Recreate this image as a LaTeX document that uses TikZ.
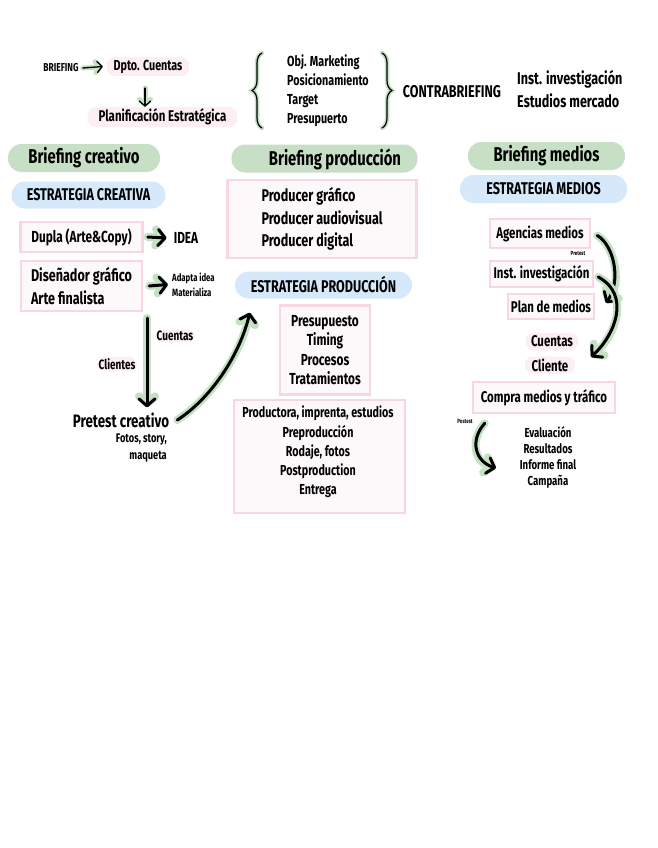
\documentclass[tikz,border=0pt]{standalone}
\usepackage{fontspec}
\setmainfont{Fira Sans}[FakeStretch=0.74]
\usetikzlibrary{arrows.meta,decorations.pathreplacing}
\definecolor{pillgreen}{RGB}{199,224,197}
\definecolor{pillblue}{RGB}{214,233,250}
\definecolor{pinkborder}{RGB}{249,214,230}
\definecolor{pinkfill}{RGB}{253,249,250}
\definecolor{hlpink}{RGB}{253,238,243}
\definecolor{glowgreen}{RGB}{197,225,196}
\newcommand\fsz[2]{\fontsize{#1}{#2}\selectfont\bfseries}
\begin{document}
\begin{tikzpicture}[x=1pt,y=-1pt,
  every node/.style={inner sep=0pt},
  pillg/.style={fill=pillgreen, rounded corners=13.5pt},
  pillb/.style={fill=pillblue, rounded corners=13.5pt},
  pbox/.style={draw=pinkborder, line width=2.5pt, fill=pinkfill},
  hl/.style={fill=hlpink, rounded corners=8pt},
  glowthin/.style={draw=glowgreen, line width=5pt, line cap=round, line join=round, -{Straight Barb[round,length=5pt,width=11pt]}},
  arrthin/.style={draw=black, line width=1.3pt, line cap=round, line join=round, -{Straight Barb[round,length=5pt,width=11pt]}},
  glowthick/.style={draw=glowgreen, line width=8pt, line cap=round, line join=round, -{Straight Barb[round,length=7pt,width=16pt]}},
  arrthick/.style={draw=black, line width=3pt, line cap=round, line join=round, -{Straight Barb[round,length=7pt,width=16pt]}},
  glowbrace/.style={draw=glowgreen, line width=4.5pt, line cap=round, decorate, decoration={brace, amplitude=10pt}},
  blackbrace/.style={draw=black, line width=1.2pt, line cap=round, decorate, decoration={brace, amplitude=10pt}}
]
\useasboundingbox[fill=white] (0,0) rectangle (657,848);

% ---------- top row ----------
\node[font=\fsz{11.5}{13}] (brief) at (61,68) {BRIEFING};
\node[hl, minimum width=82, minimum height=19, font=\fsz{14.5}{17}] (dpto) at (148,66.5) {Dpto. Cuentas};
\node[hl, minimum width=149, minimum height=20, font=\fsz{15.5}{18}] (plan) at (162.5,117) {Planificación Estratégica};
\draw[glowthin] ([xshift=4]brief.east) -- ([xshift=-4]dpto.west);
\draw[arrthin] ([xshift=4]brief.east) -- ([xshift=-4]dpto.west);
\coordinate (dtop) at (145,88);
\draw[glowthin] (dtop) -- (dtop |- plan.north);
\draw[arrthin] (dtop) -- (dtop |- plan.north);

\draw[glowbrace] (262,128) -- (262,53);
\draw[blackbrace] (262,128) -- (262,53);
\node[anchor=west, align=left, font=\fsz{14.5}{19}] (obj) at (287,91) {Obj. Marketing\\Posicionamiento\\Target\\Presupuerto};
\draw[glowbrace] (382,53) -- (382,128);
\draw[blackbrace] (382,53) -- (382,128);
\node[font=\fsz{17}{20}] (contra) at (452,92) {CONTRABRIEFING};
\node[anchor=west, align=left, font=\fsz{17}{23}] (inst) at (517,89.5) {Inst. investigación\\Estudios mercado};

% ---------- creative column ----------
\node[pillg, minimum width=152, minimum height=28, font=\fsz{20}{24}] (bcrea) at (84,158) {Briefing creativo};
\node[pillb, minimum width=154, minimum height=27, font=\fsz{17}{20}] (ecrea) at (88.5,195) {ESTRATEGIA CREATIVA};
\node[pbox, minimum width=122, minimum height=30, font=\fsz{16}{19}] (dupla) at (81.5,237) {Dupla (Arte\&Copy)};
\node[font=\fsz{16}{19}] (idea) at (186,238) {IDEA};
\node[pbox, minimum width=121, minimum height=50, align=left, font=\fsz{17}{23}] (dise) at (81.5,286) {Diseñador gráfico\\Arte finalista};
\node[anchor=west, align=left, font=\fsz{10.5}{15}] (adapta) at (172,284.5) {Adapta idea\\Materializa};
\draw[glowthick] ([xshift=4]dupla.east) -- ([xshift=-7]idea.west);
\draw[arrthick] ([xshift=4]dupla.east) -- ([xshift=-7]idea.west);
\draw[glowthick] ([xshift=6]dise.east) -- ([xshift=-4]adapta.west);
\draw[arrthick] ([xshift=6]dise.east) -- ([xshift=-4]adapta.west);

\node[hl, inner sep=1.5pt, font=\fsz{13.5}{16}] (cuentasL) at (175,336) {Cuentas};
\node[hl, inner sep=1.5pt, font=\fsz{13.5}{16}] (clientesL) at (117,364) {Clientes};
\node[font=\fsz{18}{21}] (pretest) at (121,420) {Pretest creativo};
\node[anchor=east, align=right, font=\fsz{12.5}{17}] (fotos) at (167,448.5) {Fotos, story,\\maqueta};
\coordinate (vtop) at (147,318);
\draw[glowthick] (vtop) -- ([yshift=5]vtop |- pretest.north);
\draw[arrthick] (vtop) -- ([yshift=5]vtop |- pretest.north);

% ---------- production column ----------
\node[pillg, minimum width=186, minimum height=28] (bprodpill) at (324.5,158.5) {};
\node[font=\fsz{20}{24}] (bprod) at (335,159) {Briefing producción};
\node[pbox, minimum width=189, minimum height=78, align=left, font=\fsz{17}{22.5}] (producer) at (322,219) {Producer gráfico\\Producer audiovisual\\Producer digital};
\node[pillb, minimum width=177, minimum height=27, font=\fsz{17}{20}] (eprod) at (323.5,285) {ESTRATEGIA PRODUCCIÓN};
\node[pbox, minimum width=90, minimum height=89, align=center, font=\fsz{16}{19.4}] (presu) at (325,350) {Presupuesto\\Timing\\Procesos\\Tratamientos};
\node[pbox, minimum width=171, minimum height=113] (prodbox) at (319.5,456.5) {};
\node[align=center, font=\fsz{14.5}{19.2}] (prodtext) at (318,452) {Productora, imprenta, estudios\\Preproducción\\Rodaje, fotos\\Postproduction\\Entrega};

\draw[glowthick] ([xshift=8]pretest.east) .. controls +(34,-22) and +(-10,42) .. ([shift={(15,14)}]eprod.south west);
\draw[arrthick] ([xshift=8]pretest.east) .. controls +(34,-22) and +(-10,42) .. ([shift={(15,14)}]eprod.south west);

% ---------- media column ----------
\node[pillg, minimum width=157, minimum height=28, font=\fsz{20}{24}] (bmed) at (546.5,156) {Briefing medios};
\node[pillb, minimum width=167, minimum height=28, font=\fsz{17}{20}] (emed) at (543.5,189) {ESTRATEGIA MEDIOS};
\node[pbox, minimum width=100, minimum height=29, font=\fsz{15.5}{18}] (agen) at (540,233.5) {Agencias medios};
\node[font=\fsz{6}{7}] (pretestS) at (578,253) {Pretest};
\node[pbox, minimum width=103, minimum height=26, font=\fsz{15.5}{18}] (instm) at (541.5,274) {Inst. investigación};
\node[pbox, minimum width=86, minimum height=25, font=\fsz{15.5}{18}] (planm) at (551,306.5) {Plan de medios};
\node[hl, minimum width=53, minimum height=17, font=\fsz{15.5}{18}] (cuentasR) at (552,341.5) {Cuentas};
\node[hl, minimum width=50, minimum height=17, font=\fsz{15.5}{18}] (clienteR) at (550,365) {Cliente};
\node[pbox, minimum width=142, minimum height=31, font=\fsz{15.5}{18}] (compra) at (544,397.5) {Compra medios y tráfico};
\node[font=\fsz{6}{7}] (postest) at (465,421) {Postest};
\node[align=center, font=\fsz{13}{16}] (eval) at (548,458) {Evaluación\\Resultados\\Informe final\\Campaña};

\coordinate (m1end) at (606,303);
\coordinate (m2end) at (591,357);
\coordinate (m3end) at (496,468);
\draw[glowthick] ([shift={(6,2)}]agen.east) .. controls +(16,9) and +(16,-23) .. (m1end);
\draw[arrthick] ([shift={(6,2)}]agen.east) .. controls +(16,9) and +(16,-23) .. (m1end);
\draw[glowthick] ([shift={(4,3)}]instm.east) .. controls +(33,18) and +(24,-22) .. (m2end);
\draw[arrthick] ([shift={(4,3)}]instm.east) .. controls +(33,18) and +(24,-22) .. (m2end);
\draw[glowthick] ([shift={(13,9)}]compra.south west) .. controls +(-16,18) and +(-20,-6) .. (m3end);
\draw[arrthick] ([shift={(13,9)}]compra.south west) .. controls +(-16,18) and +(-20,-6) .. (m3end);
\end{tikzpicture}
\end{document}
